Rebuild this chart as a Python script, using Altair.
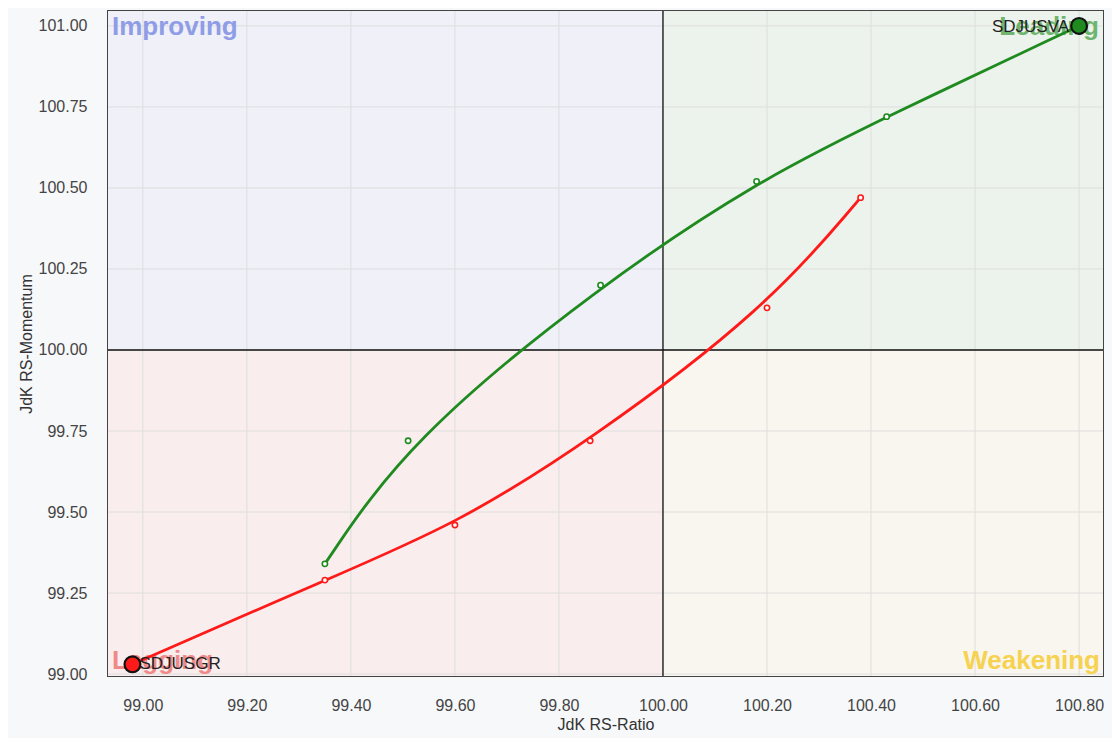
import altair as alt
import pandas as pd

# ---- data ----
green_name = "SDJUSVA"
green_x = [99.35, 99.51, 99.88, 100.18, 100.43, 100.80]
green_y = [99.34, 99.72, 100.20, 100.52, 100.72, 101.00]

red_name = "SDJUSGR"
red_x = [100.38, 100.20, 99.86, 99.60, 99.35, 98.98]
red_y = [100.47, 100.13, 99.72, 99.46, 99.29, 99.03]

x_ticks = [99.0, 99.2, 99.4, 99.6, 99.8, 100.0, 100.2, 100.4, 100.6, 100.8]
y_ticks = [99.0, 99.25, 99.5, 99.75, 100.0, 100.25, 100.5, 100.75, 101.0]
x_domain = [98.933, 100.846]
y_domain = [98.994, 101.046]
center = 100.0

quad_names = ["Improving", "Leading", "Lagging", "Weakening"]
quad_fill = ["#eff0f8", "#ecf3ec", "#f9eded", "#f8f6ee"]
quad_text = ["#8f9de6", "#6fb46f", "#f08a8a", "#f6d250"]

GREEN = "#1f8a1f"
RED = "#ff1a1a"
FONT = "Liberation Sans"

rows = []
for name, xs, ys in [(green_name, green_x, green_y), (red_name, red_x, red_y)]:
    for i, (xv, yv) in enumerate(zip(xs, ys)):
        rows.append({"series": name, "step": i, "x": xv, "y": yv,
                     "head": i == len(xs) - 1})
df = pd.DataFrame(rows)

quads = pd.DataFrame({
    "name": quad_names,
    "x": [x_domain[0], center, x_domain[0], center],
    "x2": [center, x_domain[1], center, x_domain[1]],
    "y": [center, center, y_domain[0], y_domain[0]],
    "y2": [y_domain[1], y_domain[1], center, center],
})

xscale = alt.Scale(domain=x_domain, nice=False, zero=False)
yscale = alt.Scale(domain=y_domain, nice=False, zero=False)
xaxis = alt.Axis(values=x_ticks, format=".2f", grid=False, ticks=False, domain=False,
                 labelPadding=21, labelFontSize=16, labelColor="#444", labelFont=FONT,
                 title="JdK RS-Ratio", titleFontSize=16, titleFontWeight="normal",
                 titleColor="#333", titleFont=FONT, titlePadding=3, labelFlush=False)
yaxis = alt.Axis(values=y_ticks, format=".2f", grid=False, ticks=False, domain=False,
                 labelPadding=21, labelFontSize=16, labelColor="#444", labelFont=FONT,
                 title="JdK RS-Momentum", titleFontSize=16, titleFontWeight="normal",
                 titleColor="#333", titleFont=FONT, titlePadding=4, labelFlush=False)

def X(field="x"):
    return alt.X(f"{field}:Q", scale=xscale, axis=xaxis)

def Y(field="y"):
    return alt.Y(f"{field}:Q", scale=yscale, axis=yaxis)

color_scale = alt.Scale(domain=[green_name, red_name], range=[GREEN, RED])
quad_scale = alt.Scale(domain=quad_names, range=quad_fill)

bg = alt.Chart(quads).mark_rect(stroke=None).encode(
    x=X("x"), x2="x2", y=Y("y"), y2="y2",
    fill=alt.Fill("name:N", scale=quad_scale, legend=None),
)

vgrid = alt.Chart(pd.DataFrame({"x": x_ticks})).mark_rule(color="#dedede", strokeWidth=1).encode(x=X("x"))
hgrid = alt.Chart(pd.DataFrame({"y": y_ticks})).mark_rule(color="#dedede", strokeWidth=1).encode(y=Y("y"))

cross_v = alt.Chart(pd.DataFrame({"x": [center]})).mark_rule(color="#111", strokeWidth=1.3).encode(x=X("x"))
cross_h = alt.Chart(pd.DataFrame({"y": [center]})).mark_rule(color="#111", strokeWidth=1.3).encode(y=Y("y"))

def quad_label(i, align, baseline, dx, dy, xv, yv):
    d = pd.DataFrame({"x": [xv], "y": [yv], "t": [quad_names[i]]})
    return alt.Chart(d).mark_text(align=align, baseline=baseline, dx=dx, dy=dy,
                                  font=FONT, fontSize=26, fontWeight="bold",
                                  color=quad_text[i]).encode(x=X("x"), y=Y("y"), text="t:N")

labels = (quad_label(0, "left", "top", 4, 3, x_domain[0], y_domain[1])
          + quad_label(1, "right", "top", -4, 3, x_domain[1], y_domain[1])
          + quad_label(2, "left", "bottom", 4, -2, x_domain[0], y_domain[0])
          + quad_label(3, "right", "bottom", -3, -2, x_domain[1], y_domain[0]))

lines = alt.Chart(df).mark_line(interpolate="basis", strokeWidth=2.8).encode(
    x=X(), y=Y(), order="step:Q",
    color=alt.Color("series:N", scale=color_scale, legend=None),
    detail="series:N",
)

tails = alt.Chart(df).transform_filter("!datum.head").mark_point(
    shape="circle", filled=True, fill="white", size=28, strokeWidth=1.6, opacity=1).encode(
    x=X(), y=Y(), stroke=alt.Stroke("series:N", scale=color_scale, legend=None))

heads = alt.Chart(df).transform_filter("datum.head").mark_circle(
    size=250, stroke="#111", strokeWidth=2.2, opacity=1).encode(
    x=X(), y=Y(), color=alt.Color("series:N", scale=color_scale, legend=None))

head_lbl_g = alt.Chart(df).transform_filter(f"datum.head && datum.series == '{green_name}'").mark_text(
    align="right", baseline="middle", dx=-10, dy=1, font=FONT, fontSize=17, color="#222").encode(
    x=X(), y=Y(), text="series:N")
head_lbl_r = alt.Chart(df).transform_filter(f"datum.head && datum.series == '{red_name}'").mark_text(
    align="left", baseline="middle", dx=7, dy=0, font=FONT, fontSize=17, color="#222").encode(
    x=X(), y=Y(), text="series:N")

chart = alt.layer(bg, vgrid, hgrid, labels, cross_v, cross_h, lines, tails, heads,
                  head_lbl_g, head_lbl_r).properties(
    width=995, height=665,
    autosize=alt.AutoSizeParams(type="none"),
    padding={"left": 100, "top": 3, "right": 9, "bottom": 62},
    background="#f7f8fa",
).configure_view(stroke="#444", strokeWidth=2)

chart.save("out.html", embed_options={"renderer": "svg", "actions": False})
